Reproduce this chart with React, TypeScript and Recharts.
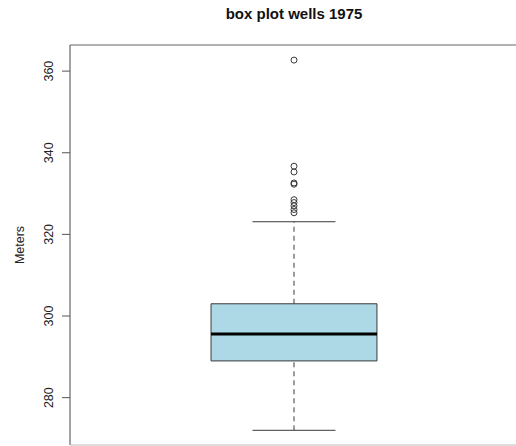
import { ScatterChart, Scatter, XAxis, YAxis, ReferenceArea, ReferenceLine } from 'recharts';

// five-number summary for the 1975 wells (meters)
const lowerWhisker = 272.0;
const q1 = 289.0;
const median = 295.6;
const q3 = 303.0;
const upperWhisker = 323.1;
const outliers = [362.7, 336.7, 335.3, 332.6, 332.3, 328.5, 327.8, 327.0, 326.1, 325.3];
const yTicks = [280, 300, 320, 340, 360];

const boxX = 1;
const outlierData = outliers.map(v => ({ x: boxX, y: v }));

const FONT = '"Liberation Sans", Arial, Helvetica, sans-serif';
const INK = '#3a3a3a';
const X_MIN = 0.46;
const X_MAX = 1.54;
const Y_MIN = 268.4;
const Y_MAX = 366.4;

function RotatedTick(props: any) {
  const { x, y, payload } = props;
  const bx = x - 7;
  return (
    <text x={bx} y={y} transform={`rotate(-90, ${bx}, ${y})`} textAnchor="middle"
      fontFamily={FONT} fontSize={12.5} fill="#222">
      {payload.value}
    </text>
  );
}

function MetersLabel(props: any) {
  const vb = props.viewBox || { x: 0, y: 45, width: 70, height: 400 };
  const lx = vb.x + 24;
  const ly = vb.y + vb.height / 2;
  return (
    <text x={lx} y={ly} transform={`rotate(-90, ${lx}, ${ly})`} textAnchor="middle"
      fontFamily={FONT} fontSize={12.5} fill="#222">
      Meters
    </text>
  );
}

function OpenCircle(props: any) {
  const { cx, cy } = props;
  return <circle cx={cx} cy={cy} r={3} fill="none" stroke={INK} strokeWidth={1} />;
}

export default function App() {
  return (
    <div style={{ position: 'absolute', top: 0, left: 0, width: 516, height: 446, overflow: 'hidden', background: '#fff' }}>
      <div style={{ position: 'absolute', top: 6, left: 70, width: 448, textAlign: 'center',
        fontFamily: FONT, fontWeight: 'bold', fontSize: 15, lineHeight: '15px', color: '#111' }}>
        box plot wells 1975
      </div>
      <ScatterChart width={520} height={446} margin={{ top: 45, right: 2, bottom: 1, left: 0 }}>
        <XAxis type="number" dataKey="x" domain={[X_MIN, X_MAX]} hide />
        <YAxis type="number" dataKey="y" domain={[Y_MIN, Y_MAX]} ticks={yTicks} width={70}
          axisLine={false} tickSize={8} tickLine={{ stroke: '#555' }} tick={<RotatedTick />}
          label={<MetersLabel />} />
        {/* plot frame: right edge falls outside the picture */}
        <ReferenceLine segment={[{ x: X_MIN, y: Y_MAX }, { x: X_MAX, y: Y_MAX }]} stroke="#666" strokeWidth={1.2} />
        <ReferenceLine segment={[{ x: X_MIN, y: Y_MIN }, { x: X_MIN, y: Y_MAX }]} stroke="#666" strokeWidth={1.2} />
        <ReferenceLine segment={[{ x: X_MIN, y: Y_MIN }, { x: X_MAX, y: Y_MIN }]} stroke="#bbb" strokeWidth={1} />
        {/* whiskers */}
        <ReferenceLine segment={[{ x: boxX, y: q3 }, { x: boxX, y: upperWhisker }]} stroke={INK} strokeDasharray="5 4" />
        <ReferenceLine segment={[{ x: boxX, y: lowerWhisker }, { x: boxX, y: q1 }]} stroke={INK} strokeDasharray="5 4" />
        <ReferenceLine segment={[{ x: 0.9, y: upperWhisker }, { x: 1.1, y: upperWhisker }]} stroke={INK} />
        <ReferenceLine segment={[{ x: 0.9, y: lowerWhisker }, { x: 1.1, y: lowerWhisker }]} stroke={INK} />
        {/* box */}
        <ReferenceArea x1={0.8} x2={1.2} y1={q1} y2={q3} fill="#ADD8E6" fillOpacity={1} stroke={INK} strokeWidth={1} />
        <ReferenceLine segment={[{ x: 0.8, y: median }, { x: 1.2, y: median }]} stroke="#000" strokeWidth={3} />
        <Scatter data={outlierData} shape={<OpenCircle />} isAnimationActive={false} />
      </ScatterChart>
    </div>
  );
}
